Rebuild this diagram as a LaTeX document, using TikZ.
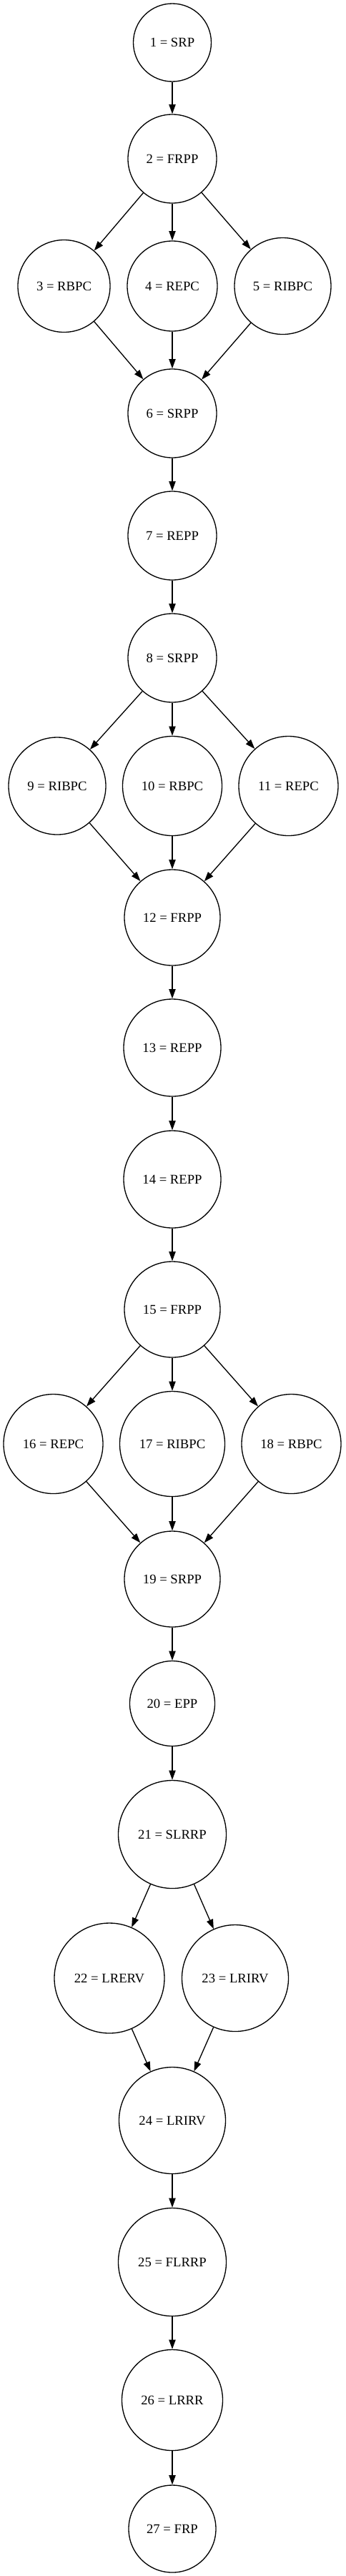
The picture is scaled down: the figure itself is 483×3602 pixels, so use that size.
\documentclass[tikz,border=0pt]{standalone}
\usepackage{fontspec}
\setmainfont{Liberation Serif}
\usepackage{tikz}
\usetikzlibrary{arrows.meta}

\begin{document}
\begin{tikzpicture}[x=0.75pt,y=0.75pt]
                \tikzstyle{every node}+=[inner sep=0pt]
                \tikzstyle{phase}=[draw=black, circle, line width=1pt, font=\fontsize{14}{16}\selectfont]
                \tikzstyle{edge}=[draw=black, line width=1pt, -{Triangle[length=10pt,width=7pt]}]
                \useasboundingbox (0,0) rectangle (483,-3602);
                \node [phase, minimum size=81.75pt] (n1) at (241,-59.5) {1 = SRP};
                \node [phase, minimum size=93pt] (n2) at (241,-222) {2 = FRPP};
                \node [phase, minimum size=96.75pt] (n3) at (89.5,-400) {3 = RBPC};
                \node [phase, minimum size=94.5pt] (n4) at (241,-400) {4 = REPC};
                \node [phase, minimum size=101.25pt] (n5) at (395.5,-400) {5 = RIBPC};
                \node [phase, minimum size=93pt] (n6) at (241,-578) {6 = SRPP};
                \node [phase, minimum size=93pt] (n7) at (241,-749) {7 = REPP};
                \node [phase, minimum size=93pt] (n8) at (241,-920) {8 = SRPP};
                \node [phase, minimum size=102pt] (n9) at (80,-1099) {9 = RIBPC};
                \node [phase, minimum size=104.25pt] (n10) at (241,-1099) {10 = RBPC};
                \node [phase, minimum size=104.25pt] (n11) at (403.5,-1099) {11 = REPC};
                \node [phase, minimum size=100.5pt] (n12) at (241,-1283) {12 = FRPP};
                \node [phase, minimum size=102pt] (n13) at (241,-1465) {13 = REPP};
                \node [phase, minimum size=102pt] (n14) at (241,-1649) {14 = REPP};
                \node [phase, minimum size=100.5pt] (n15) at (241,-1831) {15 = FRPP};
                \node [phase, minimum size=104.25pt] (n16) at (74.5,-2019) {16 = REPC};
                \node [phase, minimum size=110.25pt] (n17) at (241,-2019) {17 = RIBPC};
                \node [phase, minimum size=104.25pt] (n18) at (407.5,-2019) {18 = RBPC};
                \node [phase, minimum size=100.5pt] (n19) at (241,-2208) {19 = SRPP};
                \node [phase, minimum size=89.25pt] (n20) at (241,-2382) {20 = EPP};
                \node [phase, minimum size=113.25pt] (n21) at (241,-2565) {21 = SLRRP};
                \node [phase, minimum size=115.5pt] (n22) at (153,-2766) {22 = LRERV};
                \node [phase, minimum size=111.75pt] (n23) at (329,-2766) {23 = LRIRV};
                \node [phase, minimum size=111.75pt] (n24) at (241,-2965) {24 = LRIRV};
                \node [phase, minimum size=113.25pt] (n25) at (241,-3163) {25 = FLRRP};
                \node [phase, minimum size=105.75pt] (n26) at (241,-3356) {26 = LRRR};
                \node [phase, minimum size=91.5pt] (n27) at (241,-3536) {27 = FRP};
                \draw [edge] (n1) -- (n2);
                \draw [edge] (n2) -- (n3);
                \draw [edge] (n2) -- (n4);
                \draw [edge] (n2) -- (n5);
                \draw [edge] (n3) -- (n6);
                \draw [edge] (n4) -- (n6);
                \draw [edge] (n5) -- (n6);
                \draw [edge] (n6) -- (n7);
                \draw [edge] (n7) -- (n8);
                \draw [edge] (n8) -- (n9);
                \draw [edge] (n8) -- (n10);
                \draw [edge] (n8) -- (n11);
                \draw [edge] (n9) -- (n12);
                \draw [edge] (n10) -- (n12);
                \draw [edge] (n11) -- (n12);
                \draw [edge] (n12) -- (n13);
                \draw [edge] (n13) -- (n14);
                \draw [edge] (n14) -- (n15);
                \draw [edge] (n15) -- (n16);
                \draw [edge] (n15) -- (n17);
                \draw [edge] (n15) -- (n18);
                \draw [edge] (n16) -- (n19);
                \draw [edge] (n17) -- (n19);
                \draw [edge] (n18) -- (n19);
                \draw [edge] (n19) -- (n20);
                \draw [edge] (n20) -- (n21);
                \draw [edge] (n21) -- (n22);
                \draw [edge] (n21) -- (n23);
                \draw [edge] (n22) -- (n24);
                \draw [edge] (n23) -- (n24);
                \draw [edge] (n24) -- (n25);
                \draw [edge] (n25) -- (n26);
                \draw [edge] (n26) -- (n27);
            \end{tikzpicture}
\end{document}
